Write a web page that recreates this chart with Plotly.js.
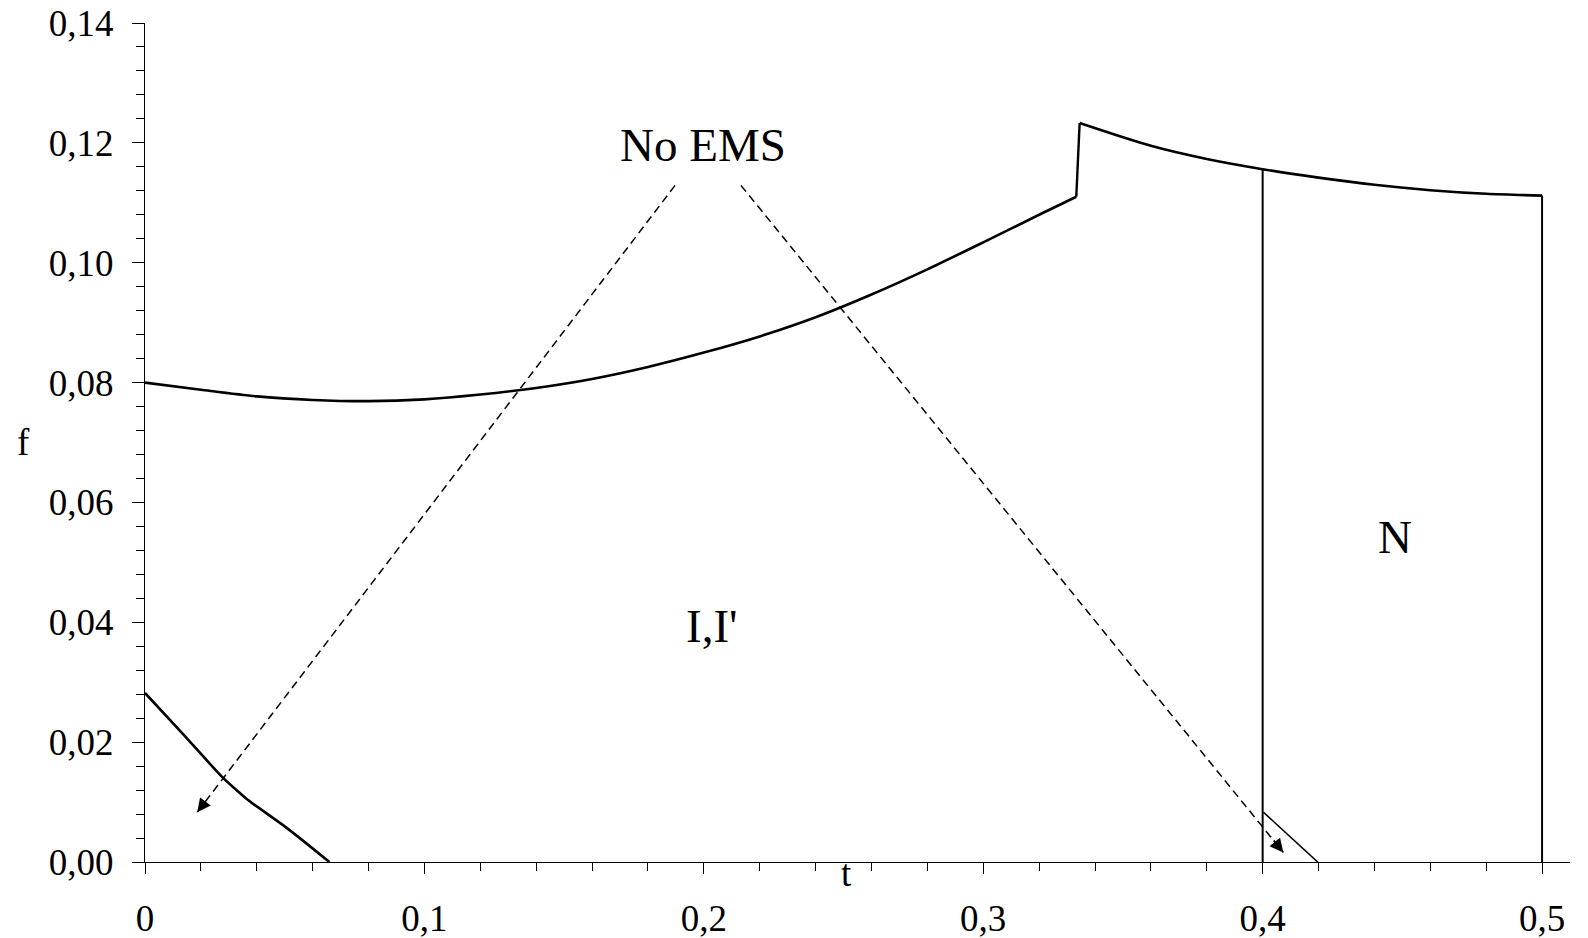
<!DOCTYPE html>
<html>
<head>
<meta charset="utf-8">
<script src="https://cdn.plot.ly/plotly-3.0.1.min.js"></script>
<style>html,body{margin:0;padding:0;background:#fff;}#chart{width:1588px;height:938px;}</style>
</head>
<body>
<div id="chart"></div>
<script>
// Upper boundary: left branch (up to t = 1/3) and right branch (after the jump)
const leftBranchT = [0, 0.02, 0.04, 0.06, 0.08, 0.10, 0.12, 0.14, 0.16, 0.18, 0.20, 0.22, 0.24, 0.26, 0.28, 0.30, 0.32, 0.3333];
const leftBranchF = [0.0800, 0.0788, 0.0777, 0.0771, 0.0769, 0.0772, 0.0780, 0.0791, 0.0806, 0.0826, 0.0850, 0.0877, 0.0909, 0.0947, 0.0989, 0.1034, 0.1080, 0.1110];
const rightBranchT = [0.3345, 0.36, 0.38, 0.40, 0.42, 0.44, 0.46, 0.48, 0.50];
const rightBranchF = [0.1233, 0.1195, 0.1173, 0.1156, 0.1142, 0.1130, 0.1121, 0.1115, 0.1112];
// Vertical separator at t = 0.4
const separatorT = [0.40, 0.40];
const separatorF = [0.0000, 0.1156];
// Lower-left curve
const lowerT = [0, 0.0137, 0.0274, 0.0330, 0.0370, 0.0507, 0.0660];
const lowerF = [0.0282, 0.0213, 0.0143, 0.0119, 0.0103, 0.0057, 0.0000];
// Small segment near t = 0.4
const smallT = [0.4003, 0.4197];
const smallF = [0.0083, 0.0000];
// Dashed arrows from the "No EMS" label
const arrowTailT = [0.1897, 0.2133];
const arrowTailF = [0.1129, 0.1129];
const arrowTipT = [0.0187, 0.4074];
const arrowTipF = [0.0083, 0.0016];
// Region labels
const labelText = ['No EMS', "I,I'", 'N'];
const labelT = [0.1996, 0.2030, 0.4474];
const labelF = [0.1196, 0.0393, 0.0542];
// Ticks
const xTickVals = [0, 0.1, 0.2, 0.3, 0.4, 0.5];
const yTickVals = [0, 0.02, 0.04, 0.06, 0.08, 0.10, 0.12, 0.14];

const FONT = 'Liberation Serif, Times New Roman, serif';
const black = '#000000';

const nL = leftBranchT.length, nR = rightBranchT.length;
const traces = [
  {x: leftBranchT, y: leftBranchF, mode: 'lines', line: {color: black, width: 2.6, shape: 'spline', smoothing: 0.8}, hoverinfo: 'skip', showlegend: false},
  {x: [leftBranchT[nL - 1], rightBranchT[0]], y: [leftBranchF[nL - 1], rightBranchF[0]], mode: 'lines', line: {color: black, width: 2.4}, hoverinfo: 'skip', showlegend: false},
  {x: rightBranchT, y: rightBranchF, mode: 'lines', line: {color: black, width: 2.6, shape: 'spline', smoothing: 0.8}, hoverinfo: 'skip', showlegend: false},
  {x: [rightBranchT[nR - 1], rightBranchT[nR - 1]], y: [rightBranchF[nR - 1], 0], mode: 'lines', line: {color: black, width: 2}, hoverinfo: 'skip', showlegend: false},
  {x: separatorT, y: separatorF, mode: 'lines', line: {color: black, width: 2}, hoverinfo: 'skip', showlegend: false},
  {x: lowerT, y: lowerF, mode: 'lines', line: {color: black, width: 2.6, shape: 'spline', smoothing: 0.8}, hoverinfo: 'skip', showlegend: false},
  {x: smallT, y: smallF, mode: 'lines', line: {color: black, width: 1.6}, hoverinfo: 'skip', showlegend: false}
];
for (let i = 0; i < arrowTailT.length; i++) {
  traces.push({x: [arrowTailT[i], arrowTipT[i]], y: [arrowTailF[i], arrowTipF[i]], mode: 'lines',
    line: {color: black, width: 1.5, dash: '8px,5px'}, hoverinfo: 'skip', showlegend: false});
}

const annotations = [];
for (let i = 0; i < arrowTipT.length; i++) {
  annotations.push({
    x: arrowTipT[i], y: arrowTipF[i], xref: 'x', yref: 'y',
    ax: arrowTipT[i] + 0.02 * (arrowTailT[i] - arrowTipT[i]),
    ay: arrowTipF[i] + 0.02 * (arrowTailF[i] - arrowTipF[i]),
    axref: 'x', ayref: 'y', text: '', showarrow: true,
    arrowhead: 2, arrowsize: 1.8, arrowwidth: 1.5, arrowcolor: black, standoff: 0
  });
}
for (let i = 0; i < labelText.length; i++) {
  annotations.push({x: labelT[i], y: labelF[i], xref: 'x', yref: 'y', text: labelText[i], showarrow: false,
    xanchor: 'center', yanchor: 'middle', font: {family: FONT, size: 47, color: black}});
}
annotations.push({x: -0.085, y: 0.5, xref: 'paper', yref: 'paper', text: 'f', showarrow: false,
  xanchor: 'center', yanchor: 'middle', font: {family: FONT, size: 37, color: black}});
annotations.push({x: 0.2509, y: 0, xref: 'x', yref: 'paper', text: 't', showarrow: false,
  xanchor: 'center', yanchor: 'top', yshift: 11, font: {family: FONT, size: 37, color: black}});

const layout = {
  width: 1588, height: 938,
  margin: {l: 145, r: 18, t: 23, b: 76},
  paper_bgcolor: '#ffffff', plot_bgcolor: '#ffffff',
  separators: ', ',
  font: {family: FONT, size: 37, color: black},
  xaxis: {
    range: [0, 0.51], showgrid: false, zeroline: false,
    showline: true, linecolor: black, linewidth: 1,
    tickmode: 'array', tickvals: xTickVals,
    ticks: 'outside', ticklen: 11, tickwidth: 1, tickcolor: black,
    ticklabelstandoff: 13,
    tickfont: {family: FONT, size: 37, color: black},
    minor: {dtick: 0.02, tick0: 0, ticks: 'outside', ticklen: 8, tickwidth: 1, tickcolor: black, showgrid: false},
    fixedrange: true
  },
  yaxis: {
    range: [0, 0.14], showgrid: false, zeroline: false,
    showline: true, linecolor: black, linewidth: 1,
    tickmode: 'array', tickvals: yTickVals, tickformat: '.2f',
    ticks: 'outside', ticklen: 12, tickwidth: 1, tickcolor: black,
    ticklabelstandoff: 11,
    tickfont: {family: FONT, size: 37, color: black},
    minor: {dtick: 0.004, tick0: 0, ticks: 'outside', ticklen: 8, tickwidth: 1, tickcolor: black, showgrid: false},
    fixedrange: true
  },
  annotations: annotations,
  showlegend: false
};

Plotly.newPlot('chart', traces, layout, {displayModeBar: false, staticPlot: true});
</script>
</body>
</html>
